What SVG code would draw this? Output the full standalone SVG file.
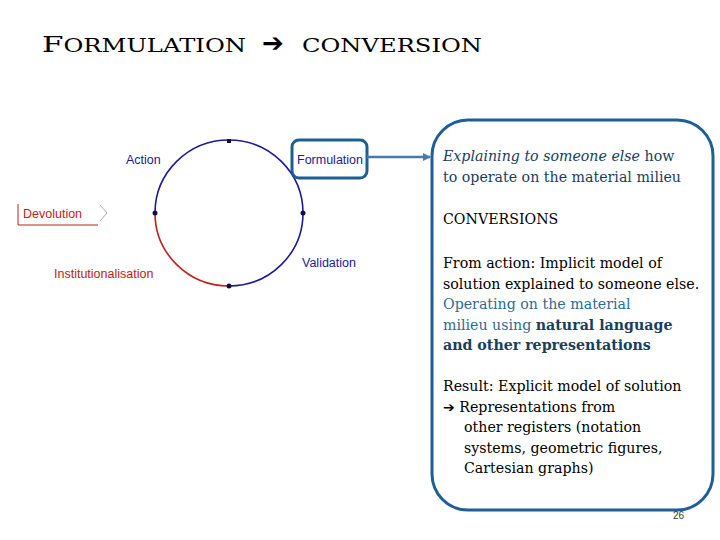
<svg xmlns="http://www.w3.org/2000/svg" width="720" height="540" viewBox="0 0 720 540">
<style>
.s{font-family:"Liberation Sans",Arial,sans-serif;font-size:12.5px}
.b{font-family:"DejaVu Serif",serif;font-size:14.2px}
.dot{fill:#101040}
</style>
<defs><marker id="ah" markerWidth="8" markerHeight="8" refX="7" refY="4" orient="auto" markerUnits="userSpaceOnUse"><path d="M0,0 L8,4 L0,8 z" fill="#4a7aa8"/></marker></defs>
<rect width="720" height="540" fill="#fff"/>
<text x="42" y="52" font-family="DejaVu Serif,serif" font-size="23" fill="#000" textLength="204" lengthAdjust="spacingAndGlyphs">F<tspan font-size="18">ORMULATION</tspan></text>
<text x="262" y="52" font-family="DejaVu Sans,sans-serif" font-size="26" fill="#000">➔</text>
<text x="302" y="52" font-family="DejaVu Serif,serif" font-size="18" fill="#000" textLength="180" lengthAdjust="spacingAndGlyphs">CONVERSION</text>
<g id="cycle">
<path d="M155,213 A74,73 0 0 1 303,213 A74,73 0 0 1 229,286" fill="none" stroke="#1a1a9a" stroke-width="1.6"/>
<path d="M155,213 A74,73 0 0 0 229,286" fill="none" stroke="#c0201a" stroke-width="1.6"/>
<rect x="227" y="139" width="4" height="4" class="dot"/>
<circle cx="155" cy="213" r="2.5" class="dot"/><circle cx="303" cy="213" r="2.5" class="dot"/><circle cx="229" cy="286" r="2.5" class="dot"/>
</g>
<g id="action"><text x="126" y="164" class="s" fill="#1a1a9a">Action</text></g>
<g id="validation"><text x="302" y="267" class="s" fill="#1a1a9a">Validation</text></g>
<g id="institutionalisation"><text x="54" y="278" class="s" fill="#c0201a">Institutionalisation</text></g>
<g id="devolution"><path d="M18,204 V225 H98" fill="none" stroke="#c0201a" stroke-width="1"/><path d="M100,205 L107,213 L100,221" fill="none" stroke="#999" stroke-width="0.8"/><text x="23" y="218" class="s" fill="#c0201a">Devolution</text></g>
<g id="formulation"><rect x="292" y="140" width="75" height="38" rx="7" fill="#fff" stroke="#1f5f8f" stroke-width="3"/><text x="297" y="164" class="s" fill="#1a1a9a">Formulation</text></g>
<g id="connectors"><line x1="367" y1="157" x2="430" y2="157" stroke="#4a7aa8" stroke-width="2.5" marker-end="url(#ah)"/></g>
<g id="panel">
<rect x="432" y="120" width="281" height="390" rx="36" fill="#fff" stroke="#1f5f99" stroke-width="3"/>
<text class="b" fill="#17405e"><tspan x="443" y="161" font-style="italic">Explaining to someone else</tspan> how<tspan x="443" y="182">to operate on the material milieu</tspan></text>
<text x="443" y="224" class="b" fill="#000">CONVERSIONS</text>
<text class="b" fill="#000"><tspan x="443" y="268">From action: Implicit model of</tspan><tspan x="443" y="289">solution explained to someone else.</tspan></text>
<text class="b" fill="#2e6a96"><tspan x="443" y="309">Operating on the material</tspan><tspan x="443" y="330">milieu using <tspan font-weight="bold" fill="#17405e">natural language</tspan></tspan><tspan x="443" y="350" font-weight="bold" fill="#17405e">and other representations</tspan></text>
<text class="b" fill="#000"><tspan x="443" y="391">Result: Explicit model of solution</tspan><tspan x="443" y="412"><tspan font-family="DejaVu Sans,sans-serif" font-size="14">➔</tspan> Representations from</tspan><tspan x="464" y="432">other registers (notation</tspan><tspan x="464" y="453">systems, geometric figures,</tspan><tspan x="464" y="473">Cartesian graphs)</tspan></text>
<text x="673" y="519" font-family="Liberation Sans,sans-serif" font-size="10" fill="#333">26</text>
</g>
</svg>
